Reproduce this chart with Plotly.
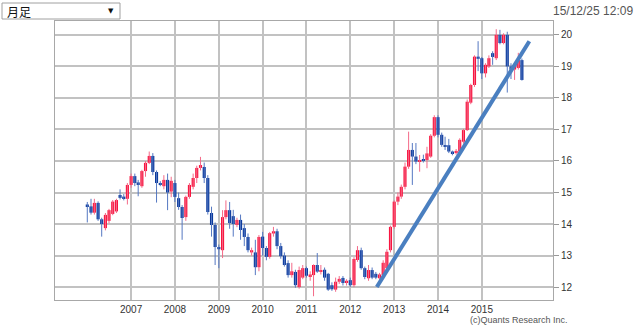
import plotly.graph_objects as go
import pandas as pd

# Monthly candles, Jan 2006 .. Dec 2015
months = pd.date_range("2006-01-01", periods=120, freq="MS")

open_ = [
    14.62, 14.56, 14.36, 14.67, 14.15, 13.87, 14.10, 14.32, 14.40, 14.92, 14.87, 14.80,  # 2006
    15.24, 15.52, 15.32, 15.20, 15.68, 15.94, 16.16, 15.65, 15.30, 15.20, 15.40, 15.03,  # 2007
    15.30, 14.82, 14.54, 14.22, 14.86, 15.18, 15.46, 15.78, 15.81, 15.46, 14.35, 13.97,  # 2008
    13.27, 13.17, 14.22, 14.44, 14.25, 13.97, 14.13, 13.87, 13.59, 13.10, 13.10, 12.63,  # 2009
    13.60, 13.24, 12.96, 13.70, 13.77, 13.30, 13.00, 12.76, 12.38, 12.48, 12.00, 12.30,  # 2010
    12.60, 12.35, 12.38, 12.70, 12.49, 12.55, 12.42, 12.06, 11.92, 12.17, 12.29, 12.13,  # 2011
    12.22, 12.06, 12.86, 13.17, 12.60, 12.28, 12.54, 12.42, 12.28, 12.38, 12.60, 13.17,  # 2012
    13.91, 14.71, 14.87, 15.18, 15.82, 16.35, 16.14, 15.98, 16.05, 16.03, 16.14, 16.80,  # 2013
    17.39, 16.83, 16.50, 16.50, 16.30, 16.25, 16.30, 16.61, 16.98, 17.85, 18.41, 19.31,  # 2014
    19.26, 18.78, 19.00, 19.42, 19.26, 20.00, 19.74, 20.00, 19.00, 18.90, 18.95, 19.20,  # 2015
]
high = [
    14.70, 14.80, 14.80, 14.72, 14.20, 14.35, 14.48, 14.76, 14.80, 15.10, 14.95, 15.30,
    15.60, 15.60, 15.40, 15.72, 16.00, 16.30, 16.25, 15.70, 15.36, 15.55, 15.60, 15.50,
    15.40, 15.00, 14.60, 14.90, 15.30, 15.60, 15.85, 16.13, 15.95, 15.55, 14.55, 14.05,
    13.35, 14.44, 14.75, 14.70, 14.45, 14.20, 14.30, 14.00, 13.70, 13.25, 13.50, 13.65,
    13.75, 13.30, 13.75, 13.91, 13.85, 13.40, 13.10, 12.85, 12.77, 12.55, 12.65, 12.70,
    12.65, 12.50, 12.72, 13.08, 12.70, 12.62, 12.45, 12.15, 12.30, 12.35, 12.35, 12.25,
    12.30, 12.95, 13.30, 13.25, 12.65, 12.70, 12.62, 12.48, 12.45, 12.85, 13.20, 13.95,
    14.75, 15.00, 15.25, 15.95, 16.93, 16.57, 16.57, 16.19, 16.20, 16.45, 16.85, 17.45,
    17.45, 16.90, 16.77, 16.70, 16.33, 16.38, 16.72, 17.02, 17.95, 18.45, 19.35, 19.80,
    19.30, 19.10, 19.35, 19.48, 20.18, 20.16, 20.05, 20.10, 19.10, 19.10, 19.43, 19.25,
]
low = [
    14.05, 14.30, 14.30, 14.10, 13.60, 13.80, 14.02, 14.28, 14.35, 14.78, 14.75, 14.62,
    15.15, 15.20, 14.88, 15.15, 15.50, 15.90, 15.55, 14.68, 15.20, 15.10, 14.44, 14.85,
    14.70, 14.45, 13.50, 14.10, 14.80, 15.10, 15.30, 15.70, 15.30, 14.30, 13.60, 12.70,
    12.60, 12.92, 14.15, 13.85, 13.60, 13.90, 13.50, 13.30, 13.10, 13.00, 12.38, 12.50,
    13.00, 12.85, 12.90, 13.60, 13.20, 12.90, 12.65, 12.30, 12.30, 11.98, 11.95, 12.25,
    12.30, 12.20, 11.71, 12.45, 12.40, 12.20, 11.88, 11.88, 11.85, 12.10, 12.05, 12.05,
    12.00, 12.00, 12.80, 12.55, 12.25, 12.20, 12.25, 12.25, 12.22, 12.30, 12.50, 13.10,
    13.85, 14.60, 14.80, 15.10, 15.75, 15.24, 15.90, 15.66, 15.95, 15.77, 16.10, 16.75,
    16.75, 16.45, 16.35, 16.25, 16.18, 16.20, 16.25, 16.55, 16.95, 17.80, 18.35, 18.85,
    18.60, 18.65, 18.95, 19.05, 19.20, 19.70, 19.70, 18.17, 18.60, 18.57, 18.90, 18.55,
]
close = [
    14.56, 14.36, 14.67, 14.15, 14.00, 14.29, 14.44, 14.71, 14.76, 14.83, 14.81, 15.24,
    15.52, 15.30, 15.26, 15.68, 15.94, 16.16, 15.65, 15.30, 15.26, 15.40, 15.00, 15.37,
    14.86, 14.54, 14.19, 14.86, 15.24, 15.46, 15.78, 15.87, 15.46, 14.38, 13.97, 13.27,
    13.20, 14.22, 14.44, 14.03, 14.00, 14.13, 13.81, 13.59, 13.17, 13.17, 12.63, 13.59,
    13.24, 12.96, 13.71, 13.77, 13.30, 12.98, 12.70, 12.38, 12.50, 12.06, 12.54, 12.60,
    12.36, 12.40, 12.70, 12.49, 12.53, 12.30, 11.92, 11.93, 12.17, 12.26, 12.13, 12.20,
    12.06, 12.89, 13.17, 12.60, 12.32, 12.54, 12.30, 12.30, 12.40, 12.77, 13.12, 13.91,
    14.71, 14.87, 15.18, 15.82, 16.35, 16.14, 15.98, 16.02, 16.02, 16.24, 16.80, 17.39,
    16.83, 16.51, 16.45, 16.30, 16.25, 16.32, 16.67, 16.98, 17.88, 18.41, 19.31, 19.24,
    18.78, 19.05, 19.26, 19.30, 20.00, 19.74, 20.00, 19.00, 18.90, 19.00, 19.20, 18.57,
]

year_ticks = ["2007-01-01", "2008-01-01", "2009-01-01", "2010-01-01", "2011-01-01",
              "2012-01-01", "2013-01-01", "2014-01-01", "2015-01-01"]
year_labels = ["2007", "2008", "2009", "2010", "2011", "2012", "2013", "2014", "2015"]
price_ticks = [12, 13, 14, 15, 16, 17, 18, 19, 20]

trend_x = ["2012-08-09", "2016-02-01"]
trend_y = [12.0, 19.8]

UP_BODY, DOWN_BODY = "#f8143f", "#0b399c"
UP_WICK, DOWN_WICK = "#f46a88", "#5578c2"

fig = go.Figure()

# wicks
for up, col in ((True, UP_WICK), (False, DOWN_WICK)):
    xs, ys = [], []
    for d, o, h, l, c in zip(months, open_, high, low, close):
        if (c >= o) == up:
            xs += [d, d, None]
            ys += [l, h, None]
    fig.add_trace(go.Scatter(x=xs, y=ys, mode="lines", line=dict(color=col, width=1),
                             hoverinfo="skip", showlegend=False))

# bodies
for up, col in ((True, UP_BODY), (False, DOWN_BODY)):
    bx, bb, bh = [], [], []
    for d, o, c in zip(months, open_, close):
        if (c >= o) == up:
            bx.append(d)
            bb.append(min(o, c))
            bh.append(max(abs(c - o), 0.04))
    fig.add_trace(go.Bar(x=bx, y=bh, base=bb, width=26 * 86400000, marker=dict(color=col, line=dict(width=0)),
                         showlegend=False, hoverinfo="skip"))

# trend line
fig.add_trace(go.Scatter(x=trend_x, y=trend_y, mode="lines",
                         line=dict(color="#4a7fc0", width=4), showlegend=False, hoverinfo="skip"))

fig.update_layout(
    width=640, height=335, autosize=False,
    margin=dict(l=55, r=87, t=21, b=35),
    paper_bgcolor="white", plot_bgcolor="white",
    font=dict(family="Liberation Sans, Arial, sans-serif", size=10, color="#333"),
    barmode="overlay",
    xaxis=dict(type="date", range=["2005-04-07", "2016-08-16"],
               tickvals=year_ticks, ticktext=year_labels,
               showgrid=True, gridcolor="#c2c2c2", gridwidth=1.5,
               showline=True, linecolor="#a8a8a8", linewidth=1, mirror=True,
               ticks="", tickfont=dict(size=10, color="#333"), zeroline=False),
    yaxis=dict(side="right", range=[11.59, 20.44], tickvals=price_ticks,
               showgrid=True, gridcolor="#c2c2c2", gridwidth=1.5,
               showline=True, linecolor="#a8a8a8", linewidth=1, mirror=True,
               ticks="outside", ticklen=5, tickcolor="#999",
               tickfont=dict(size=10, color="#333"), zeroline=False),
    shapes=[dict(type="rect", xref="paper", yref="paper",
                 x0=(2 - 55) / 498, x1=(120 - 55) / 498,
                 y0=(300 - 19) / 279, y1=(300 - 3) / 279,
                 line=dict(color="#a0a0a0", width=1), fillcolor="white", layer="above")],
    annotations=[
        dict(text="月足", xref="paper", yref="paper", x=(5 - 55) / 498, y=(300 - 11.5) / 279,
             xanchor="left", yanchor="middle", showarrow=False,
             font=dict(family="Noto Sans CJK JP", size=12, color="#111")),
        dict(text="▼", xref="paper", yref="paper", x=(111 - 55) / 498, y=(300 - 11.5) / 279,
             xanchor="center", yanchor="middle", showarrow=False,
             font=dict(family="DejaVu Sans", size=7, color="#111")),
        dict(text="15/12/25 12:09", xref="paper", yref="paper", x=(635 - 55) / 498, y=(300 - 11) / 279,
             xanchor="right", yanchor="middle", showarrow=False,
             font=dict(family="Liberation Sans, Arial", size=12, color="#555")),
        dict(text="(c)Quants Research Inc.", xref="paper", yref="paper", x=(519 - 55) / 498, y=(300 - 320) / 279,
             xanchor="center", yanchor="middle", showarrow=False,
             font=dict(family="Liberation Sans, Arial", size=9, color="#555")),
    ],
)

fig.write_html("out.html")
